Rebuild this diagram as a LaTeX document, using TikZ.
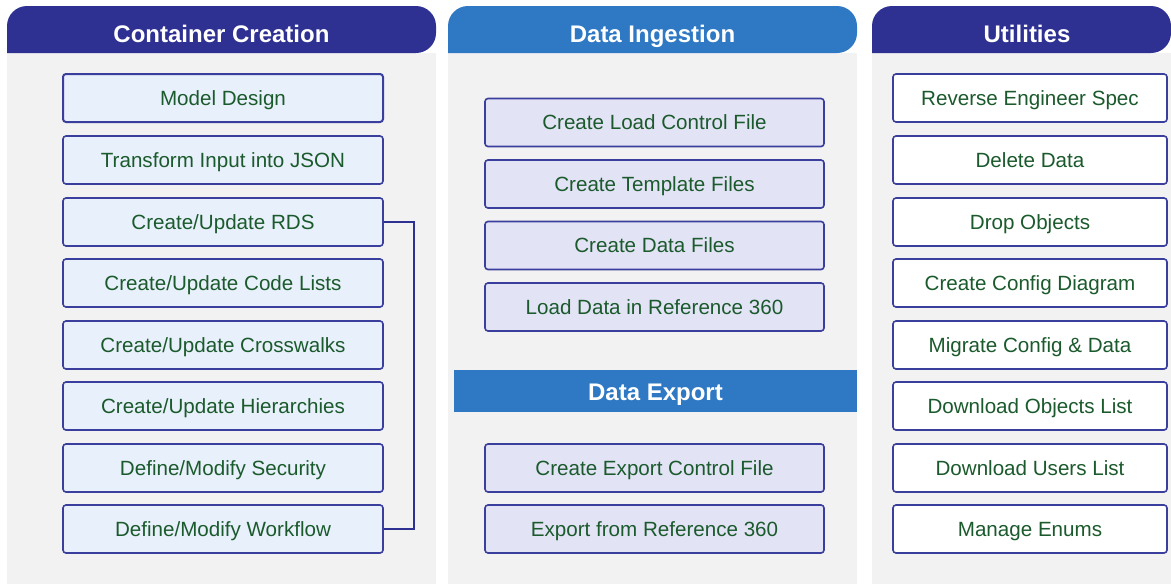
\documentclass[tikz,border=0pt]{standalone}
\usepackage{fontspec}
\setmainfont{Liberation Sans}
\definecolor{navy}{HTML}{2E3192}
\definecolor{hblue}{HTML}{2F78C4}
\definecolor{panel}{HTML}{F2F2F2}
\definecolor{fillA}{HTML}{E8F0FB}
\definecolor{fillB}{HTML}{E3E3F6}
\definecolor{txt}{HTML}{1B5A2C}
\definecolor{bord}{HTML}{3A3E9C}
\begin{document}
\begin{tikzpicture}[x=1pt,y=-1pt,
  hdrtext/.style={text=white,font=\bfseries\fontsize{24}{28}\selectfont,
    inner sep=0pt,text height=17.2pt,text depth=0pt},
  item/.style={draw=bord,line width=1.6pt,rounded corners=3pt,text=txt,
    font=\fontsize{20.6}{24}\selectfont,inner sep=0pt,minimum height=48pt,
    text height=14.75pt,text depth=0pt},
  itemA/.style={item,fill=fillA,minimum width=320pt},
  itemB/.style={item,fill=fillB,minimum width=339pt},
  itemC/.style={item,fill=white,minimum width=274pt},
  link/.style={draw=navy,line width=1.5pt}]
\useasboundingbox (0,0) rectangle (1171,584);
\fill[white] (0,0) rectangle (1171,584);
% panels
\fill[panel] (7,53) rectangle (436,584);
\fill[panel] (448,53) rectangle (857,584);
\fill[panel] (872,53) rectangle (1171,584);
% headers
\fill[navy,rounded corners=20pt] (7,53) -- (7,6) -- (436,6) -- (436,53) [sharp corners]-- cycle;
\fill[hblue,rounded corners=20pt] (448,53) -- (448,6) -- (857,6) -- (857,53) [sharp corners]-- cycle;
\fill[navy,rounded corners=20pt] (872,53) -- (872,6) -- (1171,6) -- (1171,53) [sharp corners]-- cycle;
\node[hdrtext] (h1) at (221.5,33.5) {Container Creation};
\node[hdrtext] (h2) at (652.5,33.5) {Data Ingestion};
\node[hdrtext] (h3) at (1027,33.5) {Utilities};
% data export band
\fill[hblue] (454,370) rectangle (857,412);
\node[hdrtext] (h4) at (655.5,391.5) {Data Export};
% column 1
\node[itemA,line width=2pt] (a1) at (223,98) {Model Design};
\node[itemA] (a2) at (223,160) {Transform Input into JSON};
\node[itemA] (a3) at (223,222) {Create/Update RDS};
\node[itemA] (a4) at (223,283) {Create/Update Code Lists};
\node[itemA] (a5) at (223,345) {Create/Update Crosswalks};
\node[itemA] (a6) at (223,406) {Create/Update Hierarchies};
\node[itemA] (a7) at (223,468) {Define/Modify Security};
\node[itemA] (a8) at (223,529) {Define/Modify Workflow};
\coordinate (c1) at (414,222);
\coordinate (c2) at (414,529);
\draw[link] (a3.east) -- (c1) -- (c2) -- (a8.east);
% column 2
\node[itemB] (b1) at (654.5,122.5) {Create Load Control File};
\node[itemB] (b2) at (654.5,184) {Create Template Files};
\node[itemB] (b3) at (654.5,245.5) {Create Data Files};
\node[itemB] (b4) at (654.5,307) {Load Data in Reference 360};
\node[itemB] (b5) at (654.5,468) {Create Export Control File};
\node[itemB] (b6) at (654.5,529) {Export from Reference 360};
% column 3
\node[itemC] (u1) at (1030,98) {Reverse Engineer Spec};
\node[itemC] (u2) at (1030,160) {Delete Data};
\node[itemC] (u3) at (1030,222) {Drop Objects};
\node[itemC] (u4) at (1030,283) {Create Config Diagram};
\node[itemC] (u5) at (1030,345) {Migrate Config \& Data};
\node[itemC] (u6) at (1030,406) {Download Objects List};
\node[itemC] (u7) at (1030,468) {Download Users List};
\node[itemC] (u8) at (1030,529) {Manage Enums};
\end{tikzpicture}
\end{document}
